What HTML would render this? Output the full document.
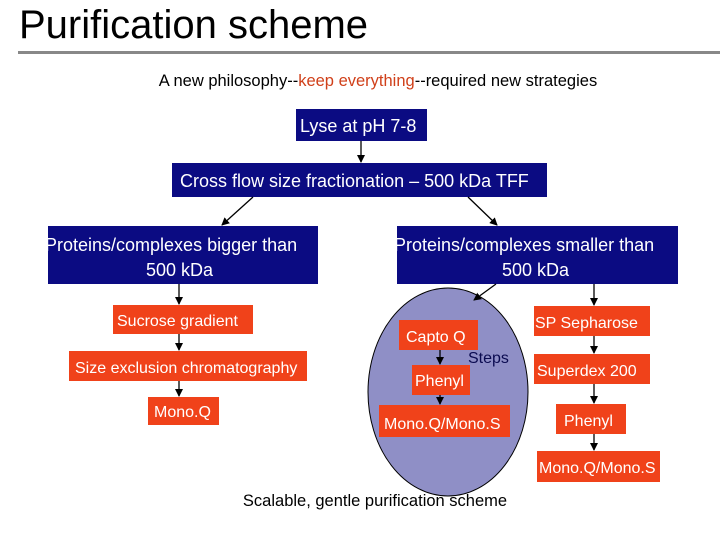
<!DOCTYPE html>
<html><head><meta charset="utf-8"><style>
body{margin:0;width:720px;height:540px;background:#fff;overflow:hidden}
svg{display:block;font-family:"Liberation Sans",sans-serif}
</style></head><body>
<svg width="720" height="540" viewBox="0 0 720 540">
<defs><marker id="a" markerWidth="8" markerHeight="8" refX="7" refY="4" orient="auto" markerUnits="userSpaceOnUse"><path d="M0,0 L8,4 L0,8 z" fill="#000"/></marker></defs>
<text x="19" y="38" font-size="40" fill="#000">Purification scheme</text>
<rect x="18" y="51" width="702" height="3" fill="#888"/>
<text x="378" y="86" font-size="16.5" text-anchor="middle" fill="#000">A new philosophy--<tspan fill="#d0401a">keep everything</tspan>--required new strategies</text>
<g fill="#0b0b82">
<rect x="296" y="109" width="131" height="32"/>
<rect x="172" y="163" width="375" height="34"/>
<rect x="48" y="226" width="270" height="58"/>
<rect x="397" y="226" width="281" height="58"/>
</g>
<ellipse cx="448" cy="392" rx="80" ry="104" fill="#8f8fc6" stroke="#000" stroke-width="1"/>
<g fill="#f0421a">
<rect x="113" y="305" width="140" height="29"/>
<rect x="69" y="351" width="238" height="30"/>
<rect x="148" y="397" width="71" height="28"/>
<rect x="399" y="320" width="79" height="30"/>
<rect x="412" y="365" width="58" height="30"/>
<rect x="379" y="405" width="131" height="32"/>
<rect x="534" y="306" width="116" height="30"/>
<rect x="534" y="354" width="116" height="30"/>
<rect x="556" y="404" width="70" height="30"/>
<rect x="537" y="451" width="123" height="31"/>
</g>
<g stroke="#000" stroke-width="1.3" fill="none" marker-end="url(#a)">
<line x1="361" y1="141" x2="361" y2="162"/>
<line x1="253" y1="197" x2="222" y2="225"/>
<line x1="468" y1="197" x2="497" y2="225"/>
<line x1="179" y1="284" x2="179" y2="304"/>
<line x1="179" y1="334" x2="179" y2="350"/>
<line x1="179" y1="381" x2="179" y2="396"/>
<line x1="496" y1="284" x2="474" y2="300"/>
<line x1="440" y1="350" x2="440" y2="364"/>
<line x1="440" y1="395" x2="440" y2="404"/>
<line x1="594" y1="284" x2="594" y2="305"/>
<line x1="594" y1="336" x2="594" y2="353"/>
<line x1="594" y1="384" x2="594" y2="403"/>
<line x1="594" y1="434" x2="594" y2="450"/>
</g>
<g fill="#fff" font-size="18">
<svg x="296" y="109" width="131" height="32"><text x="4" y="23">Lyse at pH 7-8</text></svg>
<svg x="172" y="163" width="375" height="34"><text x="8" y="24">Cross flow size fractionation – 500 kDa TFF</text></svg>
<svg x="48" y="226" width="270" height="58"><text x="-3" y="25">Proteins/complexes bigger than</text><text x="98" y="50">500 kDa</text></svg>
<svg x="397" y="226" width="281" height="58"><text x="-3" y="25">Proteins/complexes smaller than</text><text x="105" y="50">500 kDa</text></svg>
<g font-size="16">
<svg x="113" y="305" width="140" height="29"><text x="4" y="21">Sucrose gradient</text></svg>
<svg x="69" y="351" width="238" height="30"><text x="6" y="22">Size exclusion chromatography</text></svg>
<text x="154" y="417">Mono.Q</text>
<text x="406" y="342">Capto Q</text>
<text x="415" y="386">Phenyl</text>
<text x="384" y="429">Mono.Q/Mono.S</text>
<svg x="534" y="306" width="116" height="30"><text x="1" y="22">SP Sepharose</text></svg>
<text x="537" y="376">Superdex 200</text>
<text x="564" y="426">Phenyl</text>
<svg x="537" y="451" width="123" height="31"><text x="2" y="22">Mono.Q/Mono.S</text></svg>
</g>
</g>
<text x="468" y="363" font-size="16" fill="#0b0b50">Steps</text>
<text x="375" y="506" font-size="16.5" text-anchor="middle" fill="#000">Scalable, gentle purification scheme</text>
</svg>
</body></html>
